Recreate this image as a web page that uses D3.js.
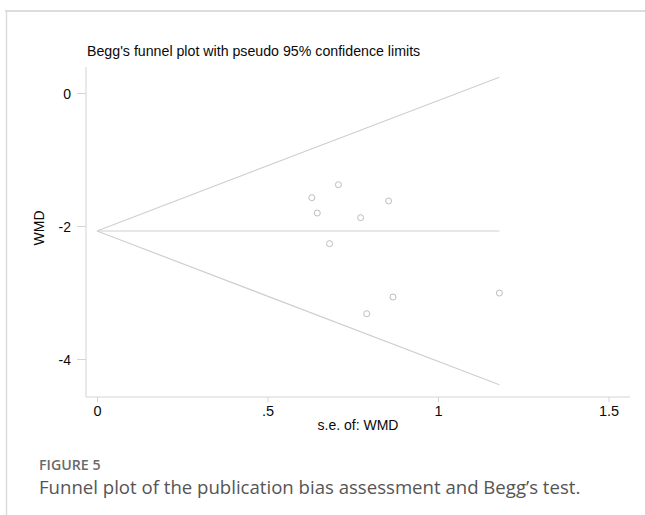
<!DOCTYPE html>
<html><head><meta charset="utf-8">
<script src="https://cdn.jsdelivr.net/npm/d3@7"></script>
<style>
html,body{margin:0;padding:0;background:#fff;}
svg{display:block;}
</style></head>
<body>
<svg id="c" width="645" height="515"></svg>
<script>
// Data
const studySE = [0.708, 0.630, 0.855, 0.646, 0.773, 0.682, 0.868, 0.791, 1.180];
const studyWMD = [-1.379, -1.574, -1.624, -1.805, -1.875, -2.266, -3.068, -3.319, -3.008];
const pooledWMD = -2.075;
const maxSE = 1.18;
const xTicks = [0, 0.5, 1, 1.5];
const xTickLabels = ["0", ".5", "1", "1.5"];
const yTicks = [0, -2, -4];
const yTickLabels = ["0", "-2", "-4"];
const titleText = "Begg's funnel plot with pseudo 95% confidence limits";
const xTitle = "s.e. of: WMD";
const yTitle = "WMD";
const figLabel = "FIGURE 5";
const captionText = "Funnel plot of the publication bias assessment and Begg\u2019s test.";

const svg = d3.select("#c");
const fontA = "Liberation Sans, Arial, sans-serif";

// frame
svg.append("line").attr("x1",5).attr("x2",645).attr("y1",11).attr("y2",11)
  .attr("stroke","#dcdcdc").attr("stroke-width",2);
svg.append("line").attr("x1",6.5).attr("x2",6.5).attr("y1",10).attr("y2",515)
  .attr("stroke","#dcdcdc").attr("stroke-width",1.5);

const x = d3.scaleLinear().domain([0,1.5]).range([97,608.5]);
const y = d3.scaleLinear().domain([0,-4]).range([93,359]);

const axisCol = "#d4d4d4";
const plotL = 86, plotR = 630, plotT = 67, plotB = 397;

// axis lines
svg.append("line").attr("x1",plotL).attr("x2",plotL).attr("y1",plotT).attr("y2",plotB)
  .attr("stroke",axisCol).attr("stroke-width",1);
svg.append("line").attr("x1",plotL).attr("x2",plotR).attr("y1",plotB).attr("y2",plotB)
  .attr("stroke",axisCol).attr("stroke-width",1);

// y axis ticks
const yAxis = d3.axisLeft(y).tickValues(yTicks).tickFormat((d,i)=>yTickLabels[i]).tickSize(9).tickPadding(6);
const gy = svg.append("g").attr("transform",`translate(${plotL},0)`).call(yAxis);
gy.select(".domain").remove();
gy.attr("font-family",fontA).attr("font-size",14);
gy.selectAll(".tick line").attr("stroke",axisCol);
gy.selectAll(".tick text").attr("fill","#0a0a0a").attr("dy","0.36em");

// x axis ticks
const xAxis = d3.axisBottom(x).tickValues(xTicks).tickFormat((d,i)=>xTickLabels[i]).tickSize(5).tickPadding(4);
const gx = svg.append("g").attr("transform",`translate(0,${plotB})`).call(xAxis);
gx.select(".domain").remove();
gx.attr("font-family",fontA).attr("font-size",14.5);
gx.selectAll(".tick line").attr("stroke",axisCol);
gx.selectAll(".tick text").attr("fill","#0a0a0a");

// funnel lines
const lineCol = "#d0d0d0";
const funnel = [
  [[0,pooledWMD],[maxSE,pooledWMD+1.96*maxSE]],
  [[0,pooledWMD],[maxSE,pooledWMD-1.96*maxSE]],
  [[0,pooledWMD],[maxSE,pooledWMD]]
];
const lg = d3.line().x(d=>x(d[0])).y(d=>y(d[1]));
svg.selectAll("path.funnel").data(funnel).enter().append("path").attr("class","funnel")
  .attr("d",lg).attr("fill","none").attr("stroke",lineCol).attr("stroke-width",1.2);

// points
svg.selectAll("circle.pt").data(studySE.map((s,i)=>[s,studyWMD[i]])).enter().append("circle")
  .attr("class","pt").attr("cx",d=>x(d[0])).attr("cy",d=>y(d[1])).attr("r",3)
  .attr("fill","none").attr("stroke","#bdbdbd").attr("stroke-width",1);

// titles
svg.append("text").attr("x",87).attr("y",56).text(titleText)
  .attr("font-family",fontA).attr("font-size",14.2).attr("fill","#0a0a0a");
svg.append("text").attr("x",358).attr("y",430).attr("text-anchor","middle").text(xTitle)
  .attr("font-family",fontA).attr("font-size",14).attr("fill","#0a0a0a");
svg.append("text").attr("transform","translate(44,228) rotate(-90)").attr("text-anchor","middle").text(yTitle)
  .attr("font-family",fontA).attr("font-size",14).attr("fill","#0a0a0a");

// caption
svg.append("text").attr("x",39).attr("y",470).text(figLabel)
  .attr("font-family","Open Sans, Noto Sans, sans-serif").attr("font-size",14.2).attr("font-weight",600).attr("fill","#6a6a6a");
svg.append("text").attr("x",39).attr("y",494).text(captionText)
  .attr("font-family","Open Sans, Noto Sans, sans-serif").attr("font-size",18.6).attr("fill","#555");
</script>
</body></html>
